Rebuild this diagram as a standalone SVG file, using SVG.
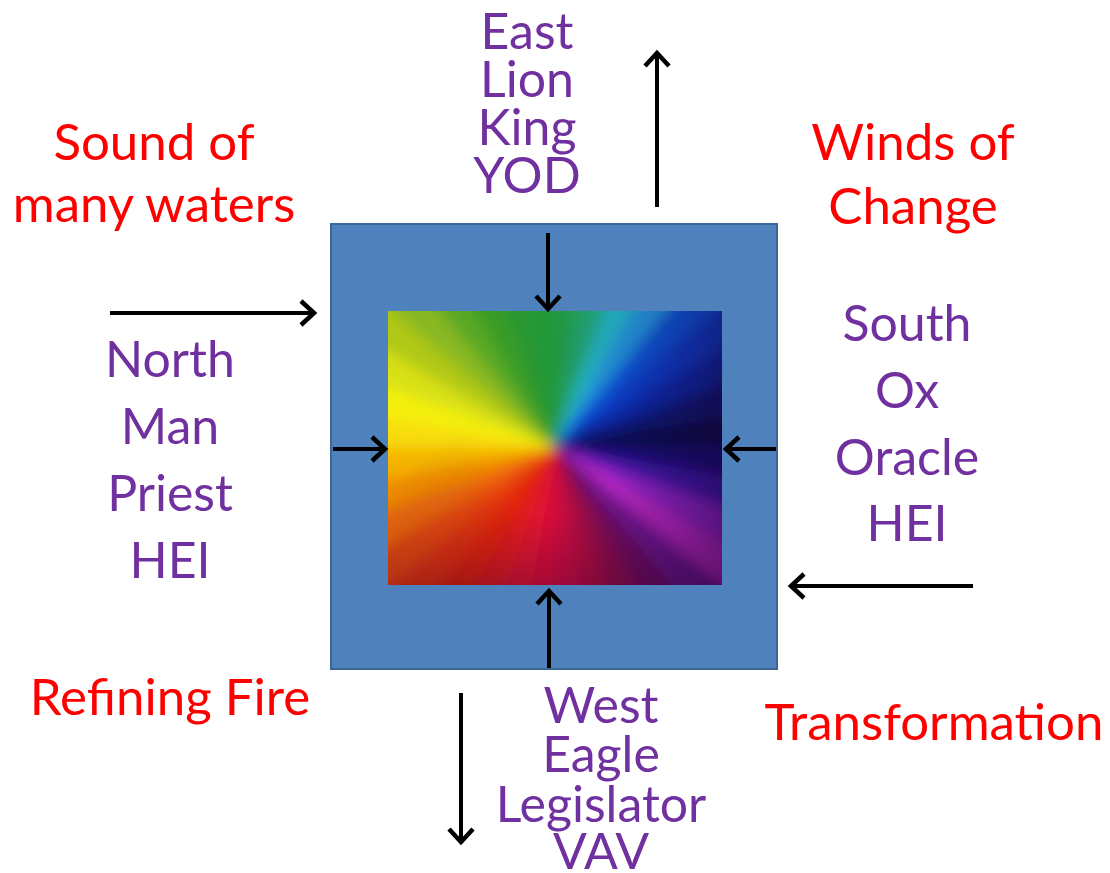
<svg xmlns="http://www.w3.org/2000/svg" width="1110" height="873" viewBox="0 0 1110 873">
<style>
.red{fill:#ff0000;font-family:Lato,"Open Sans",sans-serif;font-size:51px;text-anchor:middle}
.pur{fill:#7030a0;font-family:Lato,"Open Sans",sans-serif;font-size:50px;text-anchor:middle}
.arr{stroke:#000;stroke-width:4;fill:none;marker-end:url(#ah)}
</style>
<defs>
<marker id="ah" viewBox="0 0 22 28" refX="18" refY="14" markerWidth="22" markerHeight="28" markerUnits="userSpaceOnUse" orient="auto">
<path d="M4,2 L17,14 L4,26" fill="none" stroke="#000" stroke-width="4.5"/>
</marker>
<clipPath id="rc"><rect x="388" y="311" width="334" height="274"/></clipPath>
<filter id="bl" x="-10%" y="-10%" width="120%" height="120%"><feGaussianBlur stdDeviation="7"/></filter>
<radialGradient id="dk" cx="555" cy="447" r="230" gradientUnits="userSpaceOnUse">
<stop offset="0.3" stop-color="#180028" stop-opacity="0"/>
<stop offset="1" stop-color="#180028" stop-opacity="0.6"/>
</radialGradient>
<linearGradient id="fade" x1="530" y1="360" x2="630" y2="470" gradientUnits="userSpaceOnUse">
<stop offset="0" stop-color="#000"/>
<stop offset="1" stop-color="#fff"/>
</linearGradient>
<mask id="rm" maskUnits="userSpaceOnUse" x="380" y="300" width="350" height="300">
<rect x="380" y="300" width="350" height="300" fill="url(#fade)"/>
</mask>
</defs>
<rect width="1110" height="873" fill="#fff"/>
<g id="frame">
<rect x="331" y="224" width="446" height="445" fill="#4f81bd" stroke="#3d6696" stroke-width="2"/>
</g>
<g id="rainbow" clip-path="url(#rc)">
<g filter="url(#bl)" stroke-width="2">
<path d="M555,447 L555,147 L607.1,151.6Z" fill="#209848" stroke="#209848"/>
<path d="M555,447 L607.1,151.6 L657.6,165.1Z" fill="#20a070" stroke="#20a070"/>
<path d="M555,447 L657.6,165.1 L705,187.2Z" fill="#20b0c0" stroke="#20b0c0"/>
<path d="M555,447 L705,187.2 L747.8,217.2Z" fill="#2090d8" stroke="#2090d8"/>
<path d="M555,447 L747.8,217.2 L784.8,254.2Z" fill="#1050d0" stroke="#1050d0"/>
<path d="M555,447 L784.8,254.2 L814.8,297Z" fill="#1038c0" stroke="#1038c0"/>
<path d="M555,447 L814.8,297 L836.9,344.4Z" fill="#1028a0" stroke="#1028a0"/>
<path d="M555,447 L836.9,344.4 L850.4,394.9Z" fill="#0c1870" stroke="#0c1870"/>
<path d="M555,447 L850.4,394.9 L855,447Z" fill="#0a0c48" stroke="#0a0c48"/>
<path d="M555,447 L855,447 L850.4,499.1Z" fill="#181070" stroke="#181070"/>
<path d="M555,447 L850.4,499.1 L836.9,549.6Z" fill="#3a14a0" stroke="#3a14a0"/>
<path d="M555,447 L836.9,549.6 L814.8,597Z" fill="#8a20c0" stroke="#8a20c0"/>
<path d="M555,447 L814.8,597 L784.8,639.8Z" fill="#b828c0" stroke="#b828c0"/>
<path d="M555,447 L784.8,639.8 L747.8,676.8Z" fill="#701890" stroke="#701890"/>
<path d="M555,447 L747.8,676.8 L705,706.8Z" fill="#701060" stroke="#701060"/>
<path d="M555,447 L705,706.8 L657.6,728.9Z" fill="#901048" stroke="#901048"/>
<path d="M555,447 L657.6,728.9 L607.1,742.4Z" fill="#b01040" stroke="#b01040"/>
<path d="M555,447 L607.1,742.4 L555,747Z" fill="#c81040" stroke="#c81040"/>
<path d="M555,447 L555,747 L502.9,742.4Z" fill="#d81038" stroke="#d81038"/>
<path d="M555,447 L502.9,742.4 L452.4,728.9Z" fill="#e01830" stroke="#e01830"/>
<path d="M555,447 L452.4,728.9 L405,706.8Z" fill="#e01c1c" stroke="#e01c1c"/>
<path d="M555,447 L405,706.8 L362.2,676.8Z" fill="#e02010" stroke="#e02010"/>
<path d="M555,447 L362.2,676.8 L325.2,639.8Z" fill="#e43010" stroke="#e43010"/>
<path d="M555,447 L325.2,639.8 L295.2,597Z" fill="#e84810" stroke="#e84810"/>
<path d="M555,447 L295.2,597 L273.1,549.6Z" fill="#ee6a08" stroke="#ee6a08"/>
<path d="M555,447 L273.1,549.6 L259.6,499.1Z" fill="#f08c00" stroke="#f08c00"/>
<path d="M555,447 L259.6,499.1 L255,447Z" fill="#f4b400" stroke="#f4b400"/>
<path d="M555,447 L255,447 L259.6,394.9Z" fill="#f8dc08" stroke="#f8dc08"/>
<path d="M555,447 L259.6,394.9 L273.1,344.4Z" fill="#f4f010" stroke="#f4f010"/>
<path d="M555,447 L273.1,344.4 L295.2,297Z" fill="#d8e018" stroke="#d8e018"/>
<path d="M555,447 L295.2,297 L325.2,254.2Z" fill="#b0c818" stroke="#b0c818"/>
<path d="M555,447 L325.2,254.2 L362.2,217.2Z" fill="#88b820" stroke="#88b820"/>
<path d="M555,447 L362.2,217.2 L405,187.2Z" fill="#58a828" stroke="#58a828"/>
<path d="M555,447 L405,187.2 L452.4,165.1Z" fill="#389c28" stroke="#389c28"/>
<path d="M555,447 L452.4,165.1 L502.9,151.6Z" fill="#2a9830" stroke="#2a9830"/>
<path d="M555,447 L502.9,151.6 L555,147Z" fill="#229838" stroke="#229838"/>
</g>
<rect x="388" y="311" width="334" height="274" fill="url(#dk)" mask="url(#rm)"/>
</g>
<g id="connectors">
<line class="arr" x1="548" y1="233" x2="548" y2="310"/>
<line class="arr" x1="333" y1="449" x2="386" y2="449"/>
<line class="arr" x1="776" y1="449" x2="725" y2="449"/>
<line class="arr" x1="549" y1="668" x2="549" y2="590"/>
<line class="arr" x1="657" y1="207" x2="657" y2="52"/>
<line class="arr" x1="110" y1="313" x2="315" y2="313"/>
<line class="arr" x1="973" y1="586" x2="790" y2="586"/>
<line class="arr" x1="461" y1="693" x2="461" y2="843"/>
</g>
<g id="sound"><text class="red" x="154" y="160">Sound of</text><text class="red" x="154" y="222">many waters</text></g>
<g id="winds"><text class="red" x="913" y="160">Winds of</text><text class="red" x="913" y="224">Change</text></g>
<g id="refining"><text class="red" x="170" y="715">Refining Fire</text></g>
<g id="transformation"><text class="red" x="934" y="740">Transformation</text></g>
<g id="east"><text class="pur" x="527" y="49">East</text><text class="pur" x="527" y="97">Lion</text><text class="pur" x="527" y="145">King</text><text class="pur" x="527" y="193">YOD</text></g>
<g id="north"><text class="pur" x="170" y="377">North</text><text class="pur" x="170" y="444">Man</text><text class="pur" x="170" y="511">Priest</text><text class="pur" x="170" y="578">HEI</text></g>
<g id="south"><text class="pur" x="907" y="341">South</text><text class="pur" x="907" y="408">Ox</text><text class="pur" x="907" y="475">Oracle</text><text class="pur" x="907" y="541">HEI</text></g>
<g id="west"><text class="pur" x="601" y="723">West</text><text class="pur" x="601" y="772">Eagle</text><text class="pur" x="601" y="822">Legislator</text><text class="pur" x="601" y="869">VAV</text></g>
</svg>
